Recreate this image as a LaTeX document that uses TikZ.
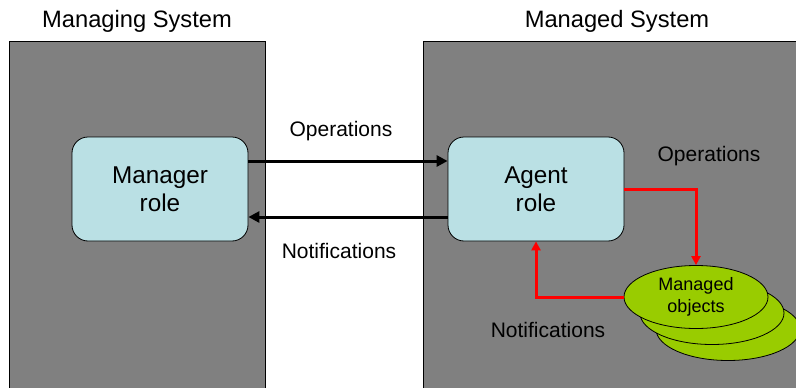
\documentclass[tikz,border=0pt]{standalone}
\usepackage{fontspec}
\setmainfont{Liberation Sans}
\usetikzlibrary{shapes.geometric,arrows.meta}
\definecolor{sysgray}{HTML}{808080}
\definecolor{rolecyan}{HTML}{BAE0E4}
\definecolor{objgreen}{HTML}{99CC00}
\definecolor{flowred}{HTML}{FF0000}
\tikzset{
  sysbox/.style={draw=black, line width=0.8pt, fill=sysgray},
  rolebox/.style={draw=black, line width=0.8pt, fill=rolecyan, rounded corners=16pt,
    minimum width=176pt, minimum height=104pt, align=center,
    font=\fontsize{24.3}{28}\selectfont},
  objell/.style={ellipse, draw=black, line width=0.8pt, fill=objgreen,
    minimum width=144pt, minimum height=63pt, inner sep=0pt,
    align=center, font=\fontsize{18}{22}\selectfont},
  lbl/.style={font=\fontsize{21}{25}\selectfont, inner sep=0pt},
  title/.style={font=\fontsize{23.7}{28}\selectfont, inner sep=0pt},
  bigarrow/.style={line width=3pt, -{Triangle[length=11pt,width=11pt]}},
  redarrow/.style={draw=flowred, line width=3pt, -{Triangle[length=9pt,width=9pt]}}
}
\begin{document}
\begin{tikzpicture}[x=1pt,y=-1pt]
\useasboundingbox (0,0) rectangle (796,388);
% system areas
\path[sysbox] (9,41) rectangle (265,396);
\path[sysbox] (423,41) rectangle (800,396);
\node[title] (tmgr) at (137,21) {Managing System};
\node[title] (tagt) at (617,21) {Managed System};
% roles
\node[rolebox] (manager) at (160,189) {Manager\\role};
\node[rolebox] (agent) at (536,189) {Agent\\role};
% managed objects, back to front
\node[objell] (obj3) at (728,329) {};
\node[objell] (obj2) at (712,313) {};
\node[objell] (obj1) at (696,297) {Managed\\objects};
% protocol arrows
\draw[bigarrow] (manager.east |- 0,161) -- (agent.west |- 0,161);
\draw[bigarrow] (agent.west |- 0,217) -- (manager.east |- 0,217);
\node[lbl] (opsA) at (341,131) {Operations};
\node[lbl] (notA) at (339,251) {Notifications};
% local operations and notifications
\draw[redarrow] (agent.east) -| (obj1.north);
\draw[redarrow] (obj1.west) -| (agent.south);
\node[lbl] (opsB) at (709,156) {Operations};
\node[lbl] (notB) at (548,330) {Notifications};
\end{tikzpicture}
\end{document}
